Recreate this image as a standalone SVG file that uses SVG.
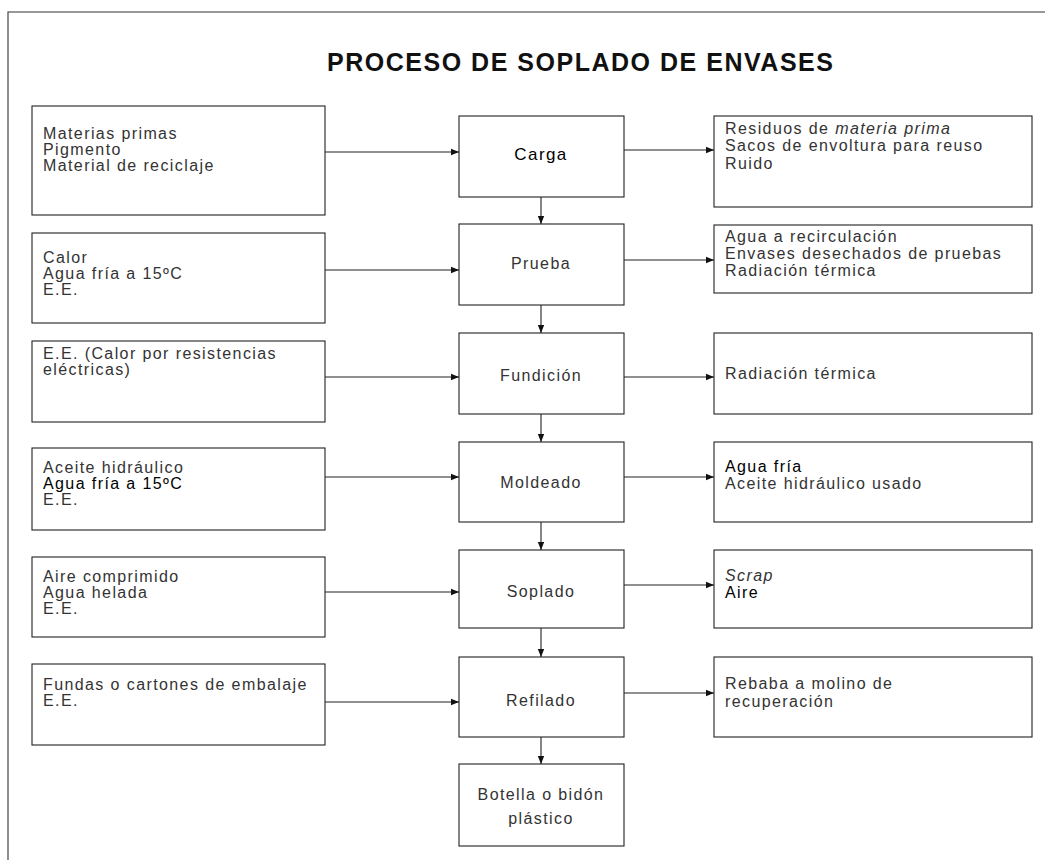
<svg xmlns="http://www.w3.org/2000/svg" width="1045" height="860" viewBox="0 0 1045 860">
<style>
.box{fill:#fff;stroke:#222;stroke-width:1.1}
.t{font-family:"Liberation Sans",Arial,sans-serif;font-size:16px;letter-spacing:1.4px;fill:#333}
.c{font-family:"Liberation Sans",Arial,sans-serif;font-size:16px;letter-spacing:1.4px;fill:#333;text-anchor:middle}
.k{fill:#000}
.title{font-family:"Liberation Sans",Arial,sans-serif;font-size:25px;font-weight:bold;fill:#111}
.ln{stroke:#222;stroke-width:1.1;fill:none;marker-end:url(#ah)}
</style>
<defs>
<marker id="ah" viewBox="0 0 10 10" refX="10" refY="5" markerWidth="8" markerHeight="8" markerUnits="userSpaceOnUse" orient="auto">
<path d="M0,1 L10,5 L0,9 z" fill="#111"/>
</marker>
</defs>
<rect width="1045" height="860" fill="#fff"/>
<path d="M8,860 V12 H1045" stroke="#333" stroke-width="1.1" fill="none"/>
<text class="title" x="327" y="71" textLength="506" lengthAdjust="spacing">PROCESO DE SOPLADO DE ENVASES</text>

<g id="in1"><rect class="box" x="32" y="106" width="293" height="109"/>
<text class="t" x="43" y="139">Materias primas</text><text class="t" x="43" y="155">Pigmento</text><text class="t" x="43" y="171">Material de reciclaje</text></g>
<g id="in2"><rect class="box" x="32" y="233" width="293" height="90"/>
<text class="t" x="43" y="263">Calor</text><text class="t" x="43" y="279">Agua fría a 15ºC</text><text class="t" x="43" y="295">E.E.</text></g>
<g id="in3"><rect class="box" x="32" y="341" width="293" height="81"/>
<text class="t" x="43" y="359">E.E. (Calor por resistencias</text><text class="t" x="43" y="375"> eléctricas)</text></g>
<g id="in4"><rect class="box" x="32" y="448" width="293" height="82"/>
<text class="t" x="43" y="473">Aceite hidráulico</text><text class="t k" x="43" y="489">Agua fría a 15ºC</text><text class="t" x="43" y="505">E.E.</text></g>
<g id="in5"><rect class="box" x="32" y="557" width="293" height="80"/>
<text class="t" x="43" y="582">Aire comprimido</text><text class="t" x="43" y="598">Agua helada</text><text class="t" x="43" y="614">E.E.</text></g>
<g id="in6"><rect class="box" x="32" y="664" width="293" height="81"/>
<text class="t" x="43" y="690">Fundas o cartones de embalaje</text><text class="t" x="43" y="706">E.E.</text></g>

<g id="carga"><rect class="box" x="459" y="116" width="165" height="81"/>
<text class="c k" x="541" y="160" style="font-size:17px">Carga</text></g>
<g id="prueba"><rect class="box" x="459" y="224" width="165" height="81"/>
<text class="c" x="541" y="269">Prueba</text></g>
<g id="fundicion"><rect class="box" x="459" y="333" width="165" height="81"/>
<text class="c" x="541" y="381">Fundición</text></g>
<g id="moldeado"><rect class="box" x="459" y="442" width="165" height="80"/>
<text class="c" x="541" y="488">Moldeado</text></g>
<g id="soplado"><rect class="box" x="459" y="550" width="165" height="78"/>
<text class="c" x="541" y="597">Soplado</text></g>
<g id="refilado"><rect class="box" x="459" y="657" width="165" height="80"/>
<text class="c" x="541" y="706">Refilado</text></g>
<g id="botella"><rect class="box" x="459" y="764" width="165" height="82"/>
<text class="c" x="541" y="800">Botella o bidón</text><text class="c" x="541" y="824">plástico</text></g>

<g id="out1"><rect class="box" x="714" y="116" width="318" height="91"/>
<text class="t" x="725" y="134">Residuos de <tspan font-style="italic">materia prima</tspan></text><text class="t" x="725" y="151">Sacos de envoltura para reuso</text><text class="t" x="725" y="169">Ruido</text></g>
<g id="out2"><rect class="box" x="714" y="225" width="318" height="68"/>
<text class="t" x="725" y="242">Agua a recirculación</text><text class="t" x="725" y="259">Envases desechados de pruebas</text><text class="t" x="725" y="276">Radiación térmica</text></g>
<g id="out3"><rect class="box" x="714" y="333" width="318" height="81"/>
<text class="t" x="725" y="379">Radiación térmica</text></g>
<g id="out4"><rect class="box" x="714" y="442" width="318" height="80"/>
<text class="t k" x="725" y="472">Agua fría</text><text class="t" x="725" y="489">Aceite hidráulico usado</text></g>
<g id="out5"><rect class="box" x="714" y="550" width="318" height="78"/>
<text class="t" x="725" y="581" font-style="italic">Scrap</text><text class="t k" x="725" y="598">Aire</text></g>
<g id="out6"><rect class="box" x="714" y="657" width="318" height="80"/>
<text class="t" x="725" y="689">Rebaba a molino de</text><text class="t" x="725" y="707">recuperación</text></g>

<g id="connectors">
<line class="ln" x1="325" y1="152" x2="459" y2="152"/>
<line class="ln" x1="325" y1="270" x2="459" y2="270"/>
<line class="ln" x1="325" y1="377" x2="459" y2="377"/>
<line class="ln" x1="325" y1="477" x2="459" y2="477"/>
<line class="ln" x1="325" y1="592" x2="459" y2="592"/>
<line class="ln" x1="325" y1="702" x2="459" y2="702"/>
<line class="ln" x1="624" y1="150" x2="714" y2="150"/>
<line class="ln" x1="624" y1="260" x2="714" y2="260"/>
<line class="ln" x1="624" y1="377" x2="714" y2="377"/>
<line class="ln" x1="624" y1="477" x2="714" y2="477"/>
<line class="ln" x1="624" y1="585" x2="714" y2="585"/>
<line class="ln" x1="624" y1="693" x2="714" y2="693"/>
<line class="ln" x1="541" y1="197" x2="541" y2="224"/>
<line class="ln" x1="541" y1="305" x2="541" y2="333"/>
<line class="ln" x1="541" y1="414" x2="541" y2="442"/>
<line class="ln" x1="541" y1="522" x2="541" y2="550"/>
<line class="ln" x1="541" y1="628" x2="541" y2="657"/>
<line class="ln" x1="541" y1="737" x2="541" y2="764"/>
</g>
</svg>
